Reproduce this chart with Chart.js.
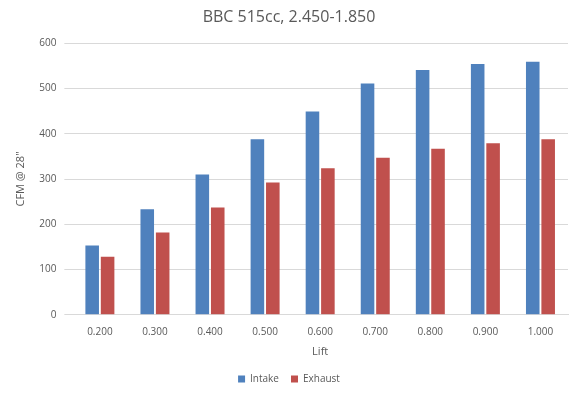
<!DOCTYPE html>
<html>
<head>
<meta charset="utf-8">
<script src="https://cdn.jsdelivr.net/npm/chart.js@4"></script>
<style>
  body { margin: 0; background: #fff; }
  #wrap { width: 580px; height: 400px; }
</style>
</head>
<body>
<div id="wrap"><canvas id="flowChart"></canvas></div>
<script>
const lifts = ['0.200', '0.300', '0.400', '0.500', '0.600', '0.700', '0.800', '0.900', '1.000'];
const intake = [153, 233, 310, 388, 449, 511, 541, 554, 559];
const exhaust = [128, 182, 237, 292, 324, 347, 367, 379, 388];

Chart.defaults.font.family = '"Open Sans", "Liberation Sans", sans-serif';
Chart.defaults.color = '#595959';

const ctx = document.getElementById('flowChart').getContext('2d');
new Chart(ctx, {
    type: 'bar',
    data: {
        labels: lifts,
        datasets: [
            { label: 'Intake', data: intake, backgroundColor: '#4f81bd' },
            { label: 'Exhaust', data: exhaust, backgroundColor: '#c0504d' }
        ]
    },
    options: {
        responsive: true,
        maintainAspectRatio: false,
        animation: false,
        categoryPercentage: 0.56,
        barPercentage: 0.88,
        layout: { padding: { left: 10, right: 12, top: 4, bottom: 6 } },
        plugins: {
            title: {
                display: true,
                text: 'BBC 515cc, 2.450-1.850',
                font: { size: 16, weight: 'normal' },
                color: '#595959',
                padding: { top: 4, bottom: 16 }
            },
            legend: {
                position: 'bottom',
                labels: { boxWidth: 7, boxHeight: 7, font: { size: 10 }, padding: 12 }
            },
            tooltip: { enabled: false }
        },
        scales: {
            x: {
                grid: { display: false },
                border: { color: '#d9d9d9' },
                ticks: { font: { size: 10 } },
                title: { display: true, text: 'Lift', font: { size: 11 } }
            },
            y: {
                min: 0,
                max: 600,
                ticks: { stepSize: 100, font: { size: 10 }, padding: 8 },
                grid: { color: '#d9d9d9' },
                border: { display: false },
                title: { display: true, text: 'CFM @ 28"', font: { size: 11 } }
            }
        }
    }
});
</script>
</body>
</html>
